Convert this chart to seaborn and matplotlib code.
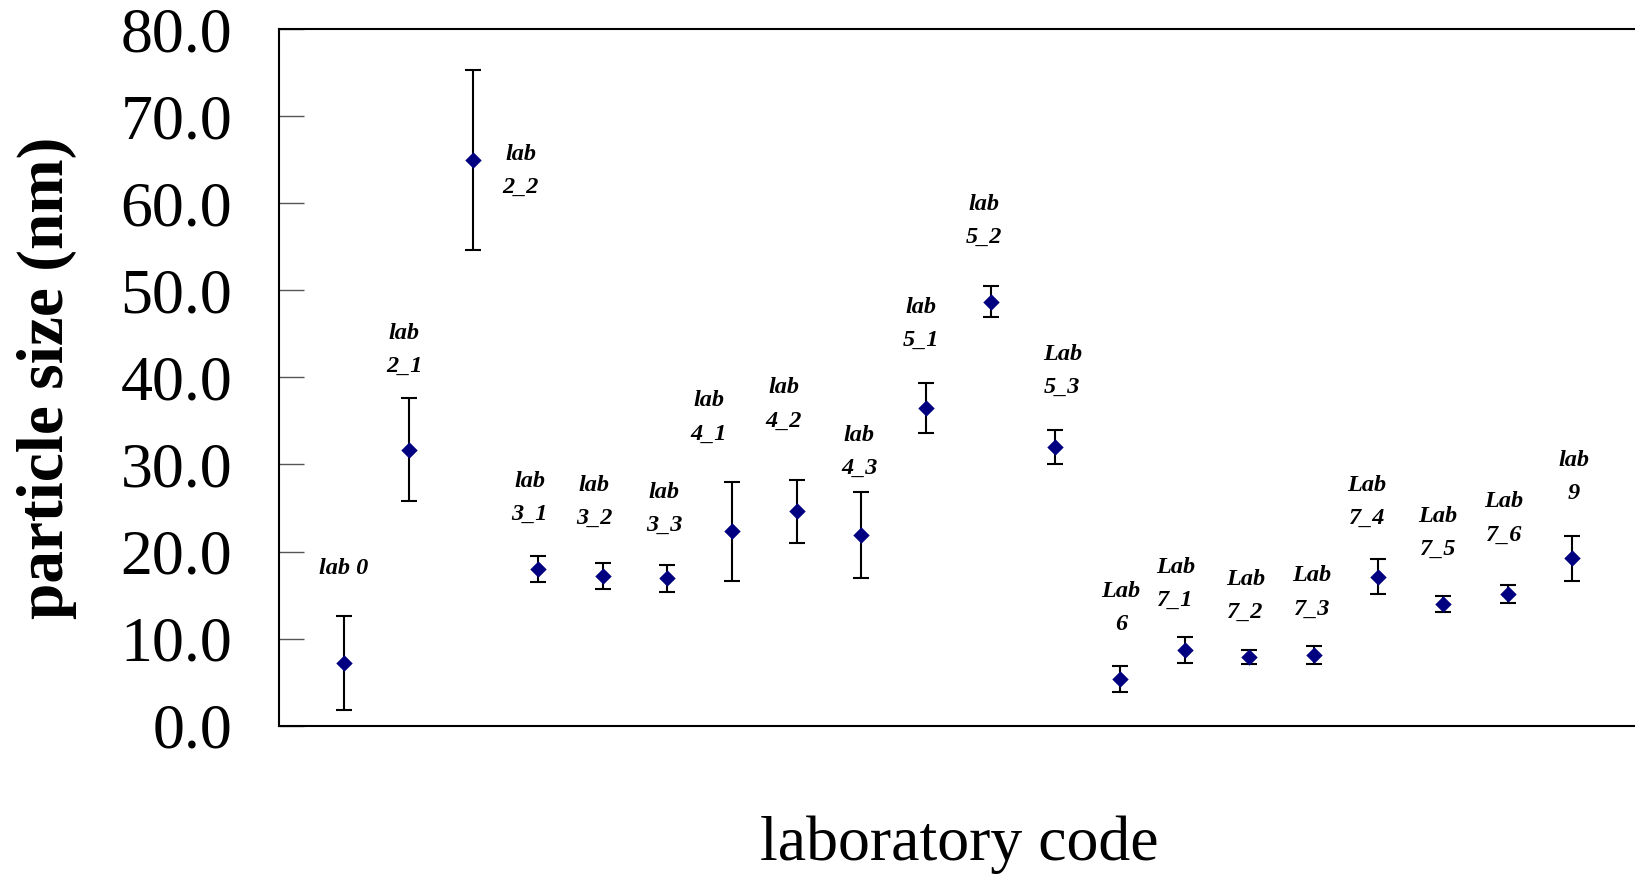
import matplotlib
matplotlib.use("Agg")
import matplotlib.pyplot as plt
import seaborn as sns
import pandas as pd
import numpy as np

labs = ["lab 0", "lab\n2_1", "lab\n2_2", "lab\n3_1", "lab\n3_2", "lab\n3_3", "lab\n4_1",
        "lab\n4_2", "lab\n4_3", "lab\n5_1", "lab\n5_2", "Lab\n5_3", "Lab\n6", "Lab\n7_1",
        "Lab\n7_2", "Lab\n7_3", "Lab\n7_4", "Lab\n7_5", "Lab\n7_6", "lab\n9"]
size_nm = [7.2, 31.7, 65.0, 18.0, 17.2, 16.9, 22.3, 24.6, 21.9, 36.5,
           48.7, 32.0, 5.4, 8.7, 7.9, 8.1, 17.1, 14.0, 15.1, 19.2]
err_nm = [5.4, 5.95, 10.35, 1.45, 1.45, 1.5, 5.7, 3.6, 4.9, 2.85,
          1.75, 2.0, 1.5, 1.45, 0.8, 1.05, 2.0, 0.9, 1.0, 2.55]
y_ticks = [0, 10, 20, 30, 40, 50, 60, 70, 80]

# label placement (layout only): x offset in index units and y centre in data units
label_dx = [0.0, -0.07, 0.73, -0.13, -0.13, -0.05, -0.36, -0.2, -0.03, -0.08,
            -0.1, 0.11, 0.02, -0.14, -0.06, -0.03, -0.18, -0.08, -0.06, 0.02]
label_y = [18.0, 43.2, 63.7, 26.2, 25.7, 24.9, 35.4, 36.9, 31.4, 46.1,
           58.0, 40.7, 13.5, 16.3, 14.9, 15.3, 25.7, 22.1, 23.8, 28.6]

df = pd.DataFrame({"idx": np.arange(len(labs)), "size": size_nm, "err": err_nm})

sns.set_theme(style="white")
plt.rcParams["font.family"] = ["Liberation Serif", "DejaVu Serif"]
plt.rcParams["text.color"] = "black"
plt.rcParams["ytick.labelcolor"] = "black"

fig = plt.figure(figsize=(16.35, 8.82), dpi=100)
ax = fig.add_axes([268 / 1568, 1 - 696 / 846, 22 * 62 / 1568, (696 - 28) / 846])

ax.errorbar(df["idx"], df["size"], yerr=df["err"], fmt="none", ecolor="black",
            elinewidth=1.5, capsize=6, capthick=1.5, zorder=2)
sns.scatterplot(data=df, x="idx", y="size", marker="D", color="#000080", s=70,
                edgecolor="#000080", linewidth=0, ax=ax, zorder=3, legend=False)

for i, lab in enumerate(labs):
    ax.text(i + label_dx[i], label_y[i], lab, ha="center", va="center",
            fontsize=17.5, fontweight="bold", fontstyle="italic", linespacing=1.75,
            color="black")

ax.set_xlim(-1, 21)
ax.set_ylim(0, 80)
ax.set_yticks(y_ticks)
ax.set_yticklabels([f"{v:.1f}" for v in y_ticks], fontsize=46, color="black")
ax.set_xticks([])
ax.tick_params(axis="y", direction="in", length=18, width=1, color="#555555",
               labelcolor="black", pad=34, left=True)
ax.set_xlabel("")
ax.set_ylabel("")
for sp in ax.spines.values():
    sp.set_color("black")
    sp.set_linewidth(1.5)

fig.text(47 / 1635, 1 - 362 / 846, "particle size (nm)", rotation=90, ha="center",
         va="center", fontsize=47, fontweight="bold", color="black")
fig.text(959 / 1635, 1 - 810 / 846, "laboratory code", ha="center", va="center",
         fontsize=46, color="black")

fig.savefig("out.png", dpi=100)
